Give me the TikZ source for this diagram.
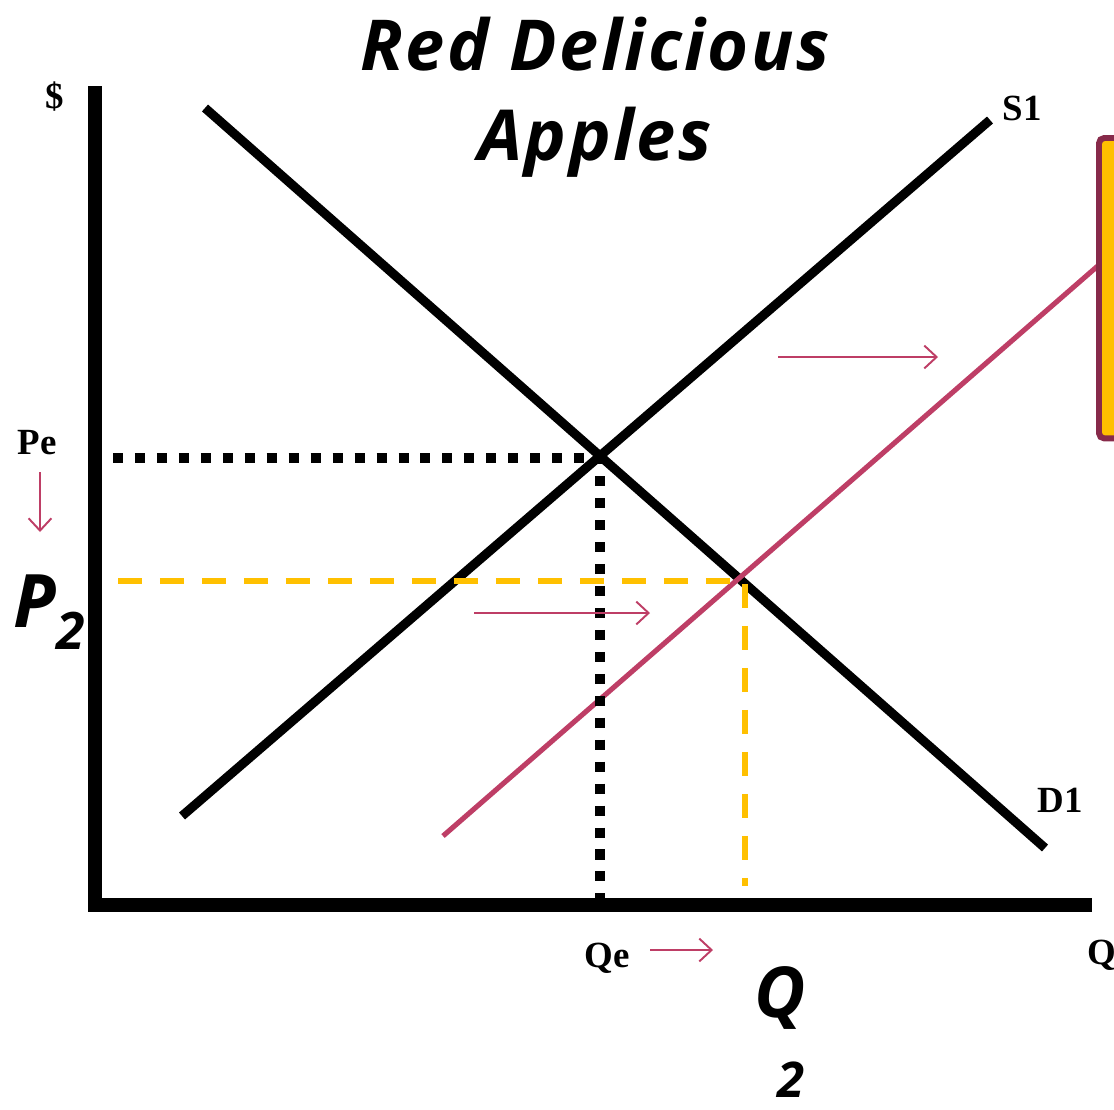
\documentclass[tikz,border=0pt]{standalone}
\usepackage{fontspec}
\setmainfont{Liberation Serif}
\newfontfamily\headfont{Open Sans}
\newfontfamily\titlefont[LetterSpace=3.5]{Open Sans}
\definecolor{shiftred}{RGB}{190,62,102}
\definecolor{boxrim}{RGB}{135,42,74}
\definecolor{gold1}{RGB}{255,192,0}
\usetikzlibrary{arrows.meta, positioning, calc}

\begin{document}
\begin{tikzpicture}[x=0.02cm, y=-0.02cm,
  axisline/.style={line width=8pt},
  curve/.style={line width=5.2pt},
  newcurve/.style={shiftred, line width=2.9pt},
  guide/.style={line width=5.7pt, dash pattern=on 5.7pt off 6.8pt},
  newguide/.style={gold1, line width=3.4pt, dash pattern=on 13.7pt off 10.2pt},
  shiftarrow/.style={shiftred, line width=1.1pt, -{Straight Barb[length=7pt, width=13pt]}},
  small/.style={font=\bfseries\fontsize{21}{21}\selectfont, inner sep=0pt},
  big/.style={font=\headfont\bfseries\itshape\fontsize{40}{40}\selectfont, inner sep=0pt}]
  \useasboundingbox (0,0) rectangle (1114,1109);

  % axes
  \coordinate (top) at (95,86);
  \coordinate (origin) at (95,905);
  \coordinate (right) at (1092,905);
  \draw[axisline] (top) -- (origin) -- (right);

  % demand and supply
  \coordinate (d1a) at (205,108);
  \coordinate (d1b) at (1045,848);
  \coordinate (s1a) at (182,816);
  \coordinate (s1b) at (990,120);
  \draw[curve] (d1a) -- (d1b);
  \draw[curve] (s1a) -- (s1b);
  \coordinate (eq) at (600,458);
  \coordinate (eq2) at (745,581);

  % shifted supply
  \coordinate (s2a) at (443,836);
  \coordinate (s2b) at (1100,264);
  \draw[newcurve] (s2a) -- (s2b);

  % guide lines
  \coordinate (pe) at (113,458);
  \coordinate (qe) at (600,905);
  \draw[guide] (pe) -- (eq) -- (qe);
  \coordinate (p2) at (118,581);
  \coordinate (q2) at (745,886);
  \draw[newguide] (p2) -- (eq2) -- (q2);

  % box at the edge
  \node[draw=boxrim, fill=gold1, line width=3.4pt, rounded corners=3pt,
        minimum width=60pt, minimum height=171pt, anchor=north west] (callout) at (1096,135) {};

  % labels
  \node[small] (dollar) at (55,97) {\$};
  \node[small] (s1) at (1022,108) {S1};
  \node[small] (d1) at (1060,800) {D1};
  \node[small] (pelab) at (37,443) {Pe};
  \node[small] (qelab) at (607,958) {Qe};
  \node[small] (qlab) at (1102,955) {Q};
  \node[big, font=\headfont\bfseries\itshape\fontsize{42}{42}\selectfont] (p2lab) at (50,612) {P\textsubscript{2}};
  \node[big] (q2lab) at (780,998) {Q};
  \node[big, font=\headfont\bfseries\itshape\fontsize{28}{28}\selectfont] (q2sub) at (791,1080) {2};
  \node[big, align=center, font=\titlefont\bfseries\itshape\fontsize{40}{51}\selectfont] (title) at (595,97)
    {Red Delicious\\Apples};

  % shift arrows
  \coordinate (a1) at (778,357);  \coordinate (a1e) at (938,357);
  \coordinate (a2) at (474,613);  \coordinate (a2e) at (650,613);
  \coordinate (a3) at (650,950);  \coordinate (a3e) at (713,950);
  \coordinate (a4) at (40,472);   \coordinate (a4e) at (40,532);
  \draw[shiftarrow] (a1) -- (a1e);
  \draw[shiftarrow] (a2) -- (a2e);
  \draw[shiftarrow] (a3) -- (a3e);
  \draw[shiftarrow] (a4) -- (a4e);
\end{tikzpicture}
\end{document}
